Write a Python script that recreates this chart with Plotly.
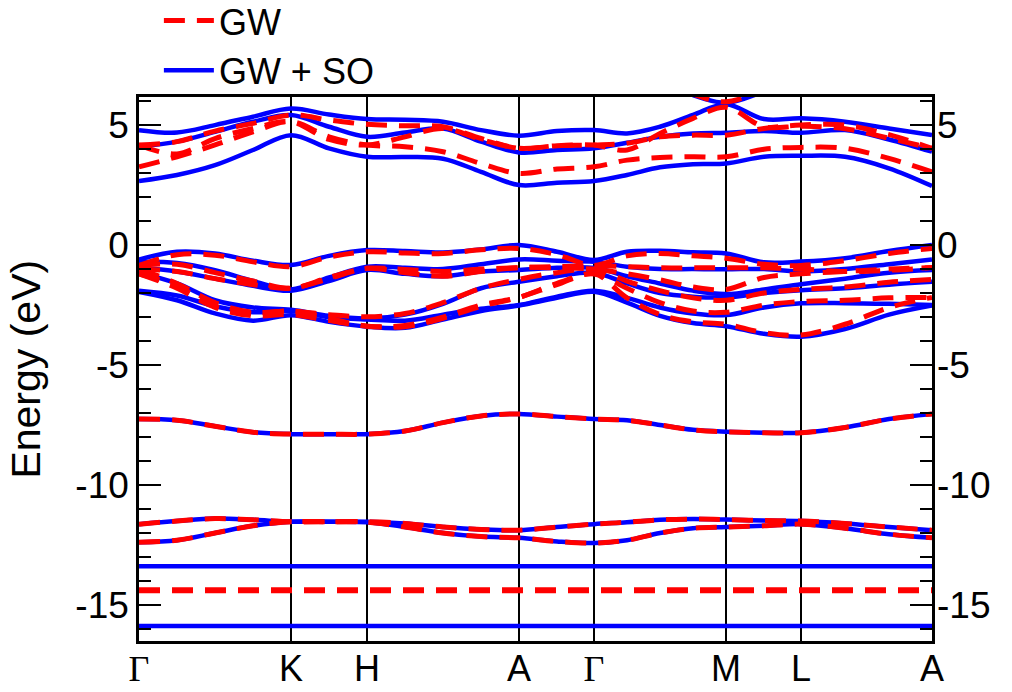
import plotly.graph_objects as go

# k-path sample positions (path distance, arbitrary units)
K_PATH = [0, 38, 76, 114, 152, 190, 228, 266, 304, 342, 380, 418, 455,
          488, 521, 554, 587, 625, 662, 706, 750, 793]
TICK_POS = [0, 152, 228, 380, 455, 587, 662, 793]
TICK_LABELS = ["Γ", "K", "H", "A", "Γ", "M", "L", "A"]
E_TICKS = [-15, -10, -5, 0, 5]
E_LABELS = ["-15", "-10", "-5", "0", "5"]

# ---- GW + SO (blue) ----
SO_C1 = [2.67, 2.92, 3.33, 3.96, 4.58, 4.03, 3.68, 3.67, 3.60, 3.05, 2.50, 2.60, 2.67, 2.92, 3.24, 3.37, 3.40, 3.68, 3.72, 3.68, 3.20, 2.46]
SO_C2 = [4.10, 4.31, 4.72, 5.14, 5.42, 4.93, 4.51, 4.69, 4.86, 4.31, 3.86, 3.96, 4.03, 4.26, 4.51, 4.65, 4.68, 4.75, 4.68, 4.79, 4.40, 3.89]
SO_C3 = [4.79, 4.69, 5.00, 5.35, 5.69, 5.44, 5.25, 5.22, 5.14, 4.79, 4.56, 4.75, 4.79, 4.65, 4.93, 5.42, 5.87, 5.25, 5.28, 5.14, 4.86, 4.58]
SO_C4 = [None] * 14 + [6.9, 6.25, 5.93, 6.4, 7.0] + [None] * 3
SO_V1 = [-0.60, -0.28, -0.35, -0.65, -0.83, -0.45, -0.21, -0.25, -0.31, -0.18, 0.00, -0.28, -0.62, -0.28, -0.24, -0.30, -0.35, -0.72, -0.69, -0.55, -0.25, 0.00]
SO_V2 = [-0.70, -0.75, -1.05, -1.50, -1.85, -1.35, -0.90, -0.95, -1.00, -0.80, -0.60, -0.65, -0.70, -0.90, -1.00, -1.00, -1.01, -1.00, -1.10, -1.00, -0.80, -0.60]
SO_V3 = [-0.95, -1.10, -1.40, -1.70, -1.90, -1.50, -1.04, -1.20, -1.30, -1.10, -1.04, -0.95, -0.95, -1.30, -1.60, -1.90, -2.04, -1.85, -1.63, -1.40, -1.15, -1.04]
SO_V4 = [-1.15, -1.60, -2.30, -2.60, -2.70, -2.95, -3.06, -2.90, -2.45, -1.80, -1.53, -1.30, -1.15, -1.60, -2.00, -2.15, -2.18, -2.00, -1.88, -1.80, -1.65, -1.53]
SO_V5 = [-1.90, -2.10, -2.55, -2.80, -2.75, -3.00, -3.10, -3.15, -2.90, -2.65, -2.50, -2.15, -1.90, -2.20, -2.60, -2.85, -2.92, -2.60, -2.43, -2.42, -2.45, -2.50]
SO_V6 = [-1.95, -2.30, -2.85, -3.15, -2.92, -3.20, -3.40, -3.45, -3.10, -2.75, -2.52, -2.20, -1.95, -2.40, -2.95, -3.25, -3.38, -3.70, -3.82, -3.50, -2.90, -2.52]
SO_D1 = [-7.25, -7.30, -7.55, -7.80, -7.88, -7.88, -7.88, -7.75, -7.40, -7.12, -7.04, -7.15, -7.25, -7.30, -7.50, -7.70, -7.78, -7.82, -7.82, -7.60, -7.25, -7.04]
SO_D2 = [-11.63, -11.50, -11.40, -11.45, -11.53, -11.53, -11.53, -11.60, -11.75, -11.85, -11.88, -11.75, -11.63, -11.55, -11.45, -11.42, -11.44, -11.48, -11.50, -11.60, -11.75, -11.88]
SO_D3 = [-12.38, -12.30, -12.00, -11.70, -11.53, -11.53, -11.55, -11.75, -12.00, -12.15, -12.20, -12.35, -12.42, -12.30, -12.00, -11.80, -11.75, -11.70, -11.63, -11.80, -12.05, -12.20]
SO_SEMICORE = [-13.38, -15.87]

# ---- GW (red dashed) ----
GW_C1 = [3.26, 3.68, 4.17, 4.72, 5.14, 4.51, 4.17, 4.10, 3.89, 3.40, 2.99, 3.17, 3.26, 3.54, 3.65, 3.68, 3.68, 3.99, 4.07, 4.03, 3.61, 3.05]
GW_C2 = [4.17, 4.31, 4.75, 5.07, 5.42, 5.21, 5.03, 4.97, 4.93, 4.44, 4.03, 4.14, 4.17, 4.24, 4.51, 4.58, 4.58, 4.86, 5.00, 5.00, 4.60, 4.03]
GW_C3 = [4.17, 3.80, 4.44, 4.86, 5.14, 4.40, 4.17, 4.51, 4.86, 4.40, 4.03, 4.14, 4.17, 3.96, 4.65, 5.28, 5.74, 4.93, 4.95, 4.85, 4.45, 4.03]
GW_C4 = [None] * 14 + [7.0, 6.3, 5.97, 6.5, 7.2] + [None] * 3
GW_V1 = [-0.85, -0.40, -0.42, -0.70, -0.90, -0.50, -0.28, -0.33, -0.35, -0.20, -0.14, -0.40, -0.85, -0.45, -0.35, -0.45, -0.55, -0.80, -0.85, -0.65, -0.35, -0.14]
GW_V2 = [-0.85, -0.80, -1.15, -1.50, -1.80, -1.35, -0.97, -1.02, -1.10, -1.00, -0.94, -0.90, -0.85, -0.90, -0.95, -0.95, -0.95, -0.95, -1.00, -1.10, -1.05, -0.94]
GW_V3 = [-1.00, -1.10, -1.40, -1.65, -1.80, -1.40, -0.97, -1.15, -1.30, -1.10, -0.94, -0.95, -1.00, -1.20, -1.45, -1.75, -1.85, -1.35, -1.20, -1.10, -1.00, -0.94]
GW_V4 = [-1.00, -1.60, -2.40, -2.80, -2.75, -2.90, -2.99, -2.85, -2.40, -1.80, -1.43, -1.15, -1.00, -1.50, -1.90, -2.20, -2.30, -2.00, -1.85, -1.75, -1.55, -1.43]
GW_V5 = [-1.20, -1.70, -2.55, -2.85, -2.75, -3.05, -3.38, -3.35, -3.00, -2.50, -2.18, -1.60, -1.20, -1.80, -2.40, -2.75, -2.80, -2.50, -2.35, -2.30, -2.20, -2.18]
GW_V6 = [-1.20, -1.80, -2.60, -2.95, -2.90, -3.15, -3.38, -3.40, -3.05, -2.55, -2.18, -1.65, -1.20, -2.20, -2.90, -3.20, -3.30, -3.65, -3.75, -3.30, -2.60, -2.18]
GW_D1 = SO_D1
GW_D2 = SO_D2
GW_D3 = SO_D3
GW_SEMICORE = [-14.38]

SO_BANDS = [SO_C1, SO_C2, SO_C3, SO_C4, SO_V1, SO_V2, SO_V3, SO_V4, SO_V5, SO_V6, SO_D1, SO_D2, SO_D3]
GW_BANDS = [GW_C1, GW_C2, GW_C3, GW_C4, GW_V1, GW_V2, GW_V3, GW_V4, GW_V5, GW_V6, GW_D1, GW_D2, GW_D3]

BLUE = "#0000ff"
RED = "#ff0000"
FONT = "Liberation Sans, Arial, sans-serif"
DASH = "21px,12px"

fig = go.Figure()

first = True
for band in SO_BANDS:
    fig.add_trace(go.Scatter(x=K_PATH, y=band, mode="lines", line=dict(color=BLUE, width=4.5, shape="spline"),
                             name="GW + SO", legendgroup="so", showlegend=first, legendrank=2,
                             hoverinfo="skip"))
    first = False
for e in SO_SEMICORE:
    fig.add_trace(go.Scatter(x=[K_PATH[0], K_PATH[-1]], y=[e, e], mode="lines",
                             line=dict(color=BLUE, width=4.5), showlegend=False, hoverinfo="skip"))

first = True
for band in GW_BANDS:
    fig.add_trace(go.Scatter(x=K_PATH, y=band, mode="lines",
                             line=dict(color=RED, width=5, dash=DASH, shape="spline"),
                             name="GW", legendgroup="gw", showlegend=first, legendrank=1,
                             hoverinfo="skip"))
    first = False
for e in GW_SEMICORE:
    fig.add_trace(go.Scatter(x=[K_PATH[0], K_PATH[-1]], y=[e, e], mode="lines", yaxis="y2",
                             line=dict(color=RED, width=6, dash=DASH), showlegend=False, hoverinfo="skip"))

YRANGE = [-16.5, 6.17]
tick_text = [f'<span style="font-family:Liberation Serif, Times New Roman, serif">{t}</span>' if t == "Γ" else t
             for t in TICK_LABELS]

yaxis_common = dict(
    range=YRANGE, tickmode="array", tickvals=E_TICKS, ticktext=E_LABELS,
    ticks="inside", ticklen=22, tickwidth=2, tickcolor="black",
    minor=dict(tickmode="linear", tick0=0, dtick=1, ticks="inside", ticklen=12, tickwidth=2,
               tickcolor="black", showgrid=False),
    showgrid=False, zeroline=False, automargin=False,
    tickfont=dict(family=FONT, size=37, color="black"),
)

fig.update_layout(
    width=1012, height=692,
    margin=dict(l=139, r=80, t=97, b=51, autoexpand=False),
    paper_bgcolor="white", plot_bgcolor="white",
    font=dict(family=FONT, color="black"),
    xaxis=dict(
        range=[K_PATH[0], K_PATH[-1]], tickmode="array", tickvals=TICK_POS, ticktext=tick_text,
        showgrid=True, gridcolor="black", gridwidth=1.5, ticks="", zeroline=False,
        showline=True, linecolor="black", linewidth=2.5, mirror=True, automargin=False,
        tickfont=dict(family=FONT, size=36, color="black"), ticklabelstandoff=-6,
    ),
    yaxis=dict(
        **yaxis_common,
        showline=True, linecolor="black", linewidth=2.5, mirror=True, ticklabelstandoff=0,
    ),
    yaxis2=dict(
        **yaxis_common,
        overlaying="y", side="right", anchor="x", showline=False, ticklabelstandoff=4,
    ),
    annotations=[dict(
        text="Energy (eV)", textangle=-90, xref="paper", yref="paper",
        x=-0.143, y=0.5, xanchor="center", yanchor="middle", showarrow=False,
        font=dict(family=FONT, size=41, color="black"),
    )],
    legend=dict(
        xref="container", yref="container",
        x=0.157, y=0.934, xanchor="left", yanchor="middle",
        font=dict(family=FONT, size=36, color="black"),
        bgcolor="rgba(0,0,0,0)", itemwidth=50, tracegroupgap=0,
    ),
    showlegend=True,
)

fig.write_html("out.html")
